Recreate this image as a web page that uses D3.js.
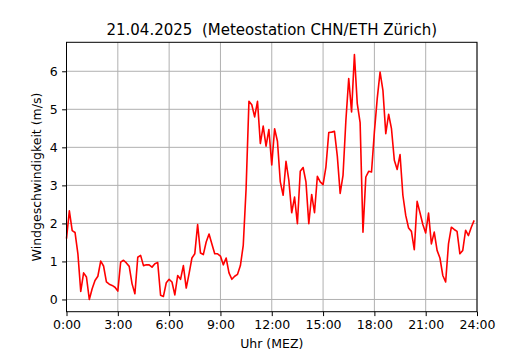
<!DOCTYPE html>
<html>
<head>
<meta charset="utf-8">
<script src="https://cdn.jsdelivr.net/npm/d3@7"></script>
<style>
  html, body { margin: 0; padding: 0; background: #fff; }
  svg { display: block; }
  text { font-family: "DejaVu Sans", sans-serif; fill: #000; white-space: pre; }
</style>
</head>
<body>
<svg id="chart" width="530" height="350"></svg>
<script>
// Wind speed (m/s), 10-minute values, 21.04.2025
const wind00to06 = [1.60, 2.33, 1.81, 1.76, 1.20, 0.21, 0.70, 0.59, 0.00, 0.28, 0.50, 0.61,
  1.01, 0.88, 0.46, 0.40, 0.37, 0.32, 0.22, 0.98, 1.03, 0.96, 0.87, 0.41,
  0.15, 1.11, 1.16, 0.89, 0.91, 0.91, 0.85, 0.94, 0.97, 0.11, 0.08, 0.44];
const wind06to12 = [0.53, 0.46, 0.12, 0.63, 0.53, 0.89, 0.30, 0.68, 1.09, 1.20, 1.97, 1.22,
  1.18, 1.51, 1.72, 1.46, 1.20, 1.20, 1.14, 0.91, 1.09, 0.70, 0.53, 0.61,
  0.66, 0.89, 1.42, 2.91, 5.21, 5.12, 4.80, 5.21, 4.10, 4.56, 4.03, 4.47];
const wind12to18 = [3.54, 4.49, 4.16, 3.09, 2.74, 3.63, 3.13, 2.28, 2.69, 1.99, 3.37, 3.47,
  3.09, 1.99, 2.76, 2.28, 3.24, 3.09, 3.02, 3.48, 4.39, 4.40, 4.42, 3.77,
  2.79, 3.26, 4.70, 5.81, 4.93, 6.44, 5.15, 4.65, 1.77, 3.22, 3.37, 3.35];
const wind18to24 = [4.40, 5.28, 5.98, 5.50, 4.36, 4.87, 4.49, 3.66, 3.42, 3.81, 2.74, 2.21,
  1.88, 1.79, 1.31, 2.58, 2.28, 1.97, 1.75, 2.27, 1.46, 1.77, 1.29, 1.09,
  0.63, 0.46, 1.46, 1.90, 1.84, 1.79, 1.20, 1.29, 1.82, 1.68, 1.90, 2.08];
const stepMinutes = 10;
const xTickHours = [0, 3, 6, 9, 12, 15, 18, 21, 24];
const xTickLabels = ["0:00", "3:00", "6:00", "9:00", "12:00", "15:00", "18:00", "21:00", "24:00"];
const yTicks = [0, 1, 2, 3, 4, 5, 6];
const titleText = "21.04.2025  (Meteostation CHN/ETH Zürich)";
const xLabelText = "Uhr (MEZ)";
const yLabelText = "Windgeschwindigkeit (m/s)";

const wind = wind00to06.concat(wind06to12, wind12to18, wind18to24);
const data = wind.map((v, i) => ({ h: i * stepMinutes / 60, v: v }));

const margin = { left: 66.5, top: 42.3, right: 530 - 477, bottom: 350 - 311.7 };
const W = 530 - margin.left - margin.right;
const H = 350 - margin.top - margin.bottom;

const svg = d3.select("#chart");
const g = svg.append("g").attr("transform", `translate(${margin.left},${margin.top})`);

const vmin = d3.min(wind), vmax = d3.max(wind);
const pad = (vmax - vmin) * 0.05;
const x = d3.scaleLinear().domain([0, 24]).range([0, W]);
const y = d3.scaleLinear().domain([vmin - pad, vmax + pad]).range([H, 0]);

// grid
g.append("g").selectAll("line").data(xTickHours).join("line")
  .attr("x1", d => x(d)).attr("x2", d => x(d)).attr("y1", 0).attr("y2", H)
  .attr("stroke", "#b0b0b0").attr("stroke-width", 1);
g.append("g").selectAll("line").data(yTicks).join("line")
  .attr("x1", 0).attr("x2", W).attr("y1", d => y(d)).attr("y2", d => y(d))
  .attr("stroke", "#b0b0b0").attr("stroke-width", 1);

// line
g.append("path").datum(data)
  .attr("fill", "none").attr("stroke", "#ff0000").attr("stroke-width", 1.6)
  .attr("stroke-linejoin", "round")
  .attr("d", d3.line().x(d => x(d.h)).y(d => y(d.v)));

// axes
const xAxis = d3.axisBottom(x).tickValues(xTickHours)
  .tickFormat((d, i) => xTickLabels[i]).tickSize(4.4).tickSizeOuter(0).tickPadding(4.4);
const yAxis = d3.axisLeft(y).tickValues(yTicks)
  .tickFormat(d3.format("d")).tickSize(4.4).tickSizeOuter(0).tickPadding(4.4);

const gx = g.append("g").attr("transform", `translate(0,${H})`).call(xAxis);
const gy = g.append("g").call(yAxis);
[gx, gy].forEach(a => {
  a.select(".domain").remove();
  a.selectAll("line").attr("stroke", "#000").attr("stroke-width", 1);
  a.selectAll("text").style("font-family", "DejaVu Sans, sans-serif").style("font-size", "12.5px").attr("fill", "#000");
});

// frame
g.append("rect").attr("x", 0).attr("y", 0).attr("width", W).attr("height", H)
  .attr("fill", "none").attr("stroke", "#000").attr("stroke-width", 1);

// title & labels
svg.append("text").attr("x", margin.left + W / 2).attr("y", 34.5)
  .attr("text-anchor", "middle").style("font-size", "15px").text(titleText);
svg.append("text").attr("x", margin.left + W / 2).attr("y", 347.5)
  .attr("text-anchor", "middle").style("font-size", "12.5px").text(xLabelText);
svg.append("text").attr("transform", `translate(41,${margin.top + H / 2}) rotate(-90)`)
  .attr("text-anchor", "middle").style("font-size", "12.5px").text(yLabelText);
</script>
</body>
</html>
